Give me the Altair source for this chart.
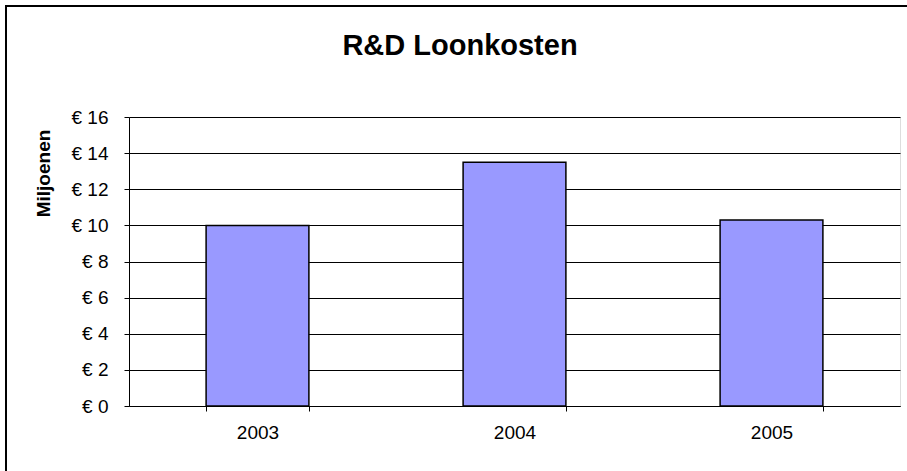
import altair as alt
import pandas as pd

years = ["2003", "2004", "2005"]
costs = [10.0, 13.5, 10.3]
y_ticks = [0, 2, 4, 6, 8, 10, 12, 14, 16]
chart_title = "R&D Loonkosten"

df = pd.DataFrame({"jaar": years, "kosten": costs})

W, H = 771, 289
FONT = "Liberation Sans"

deco = alt.Data(values=[{"t": chart_title}])

border = alt.Chart(deco).mark_rect(
    filled=False, stroke="#000000", strokeWidth=2
).encode(
    x=alt.value(-123), x2=alt.value(W + 100),
    y=alt.value(-111), y2=alt.value(H + 100),
)

title = alt.Chart(deco).mark_text(
    font=FONT, fontSize=29, fontWeight="bold", color="#000000",
    align="center", baseline="alphabetic",
).encode(
    text="t:N", x=alt.value(331), y=alt.value(-62),
)

bars = alt.Chart(df).mark_bar(
    fill="#9999FF", stroke="#000000", strokeWidth=1.5
).encode(
    x=alt.X(
        "jaar:N", title=None, sort=years,
        scale=alt.Scale(paddingInner=0.6, paddingOuter=0.3),
        axis=alt.Axis(
            tickBand="extent", labelAngle=0, labelFontSize=19, labelFont=FONT,
            labelColor="#000000", labelPadding=12, tickSize=5, tickColor="#000000",
            domainColor="#000000", grid=False,
        ),
    ),
    y=alt.Y(
        "kosten:Q", title="Miljoenen",
        scale=alt.Scale(domain=[0, 16], nice=False),
        axis=alt.Axis(
            values=y_ticks, labelExpr="'€ ' + datum.value",
            labelFontSize=19, labelFont=FONT, labelColor="#000000",
            labelPadding=16, tickSize=5, tickColor="#000000",
            domainColor="#000000", gridColor="#000000", gridOpacity=1,
            titleFont=FONT, titleFontSize=19, titleFontWeight="bold",
            titleColor="#000000", titleX=-86, titleY=56,
            titleAlign="center", titleBaseline="middle", titleAngle=270,
        ),
    ),
)

chart = alt.layer(border, title, bars).properties(
    width=W, height=H,
    autosize="none",
    padding={"left": 129, "top": 117, "right": 7, "bottom": 65},
).configure_view(
    stroke="#808080", strokeWidth=2
).configure(background="white")

chart.save("out.html", embed_options={"renderer": "svg", "actions": False})
